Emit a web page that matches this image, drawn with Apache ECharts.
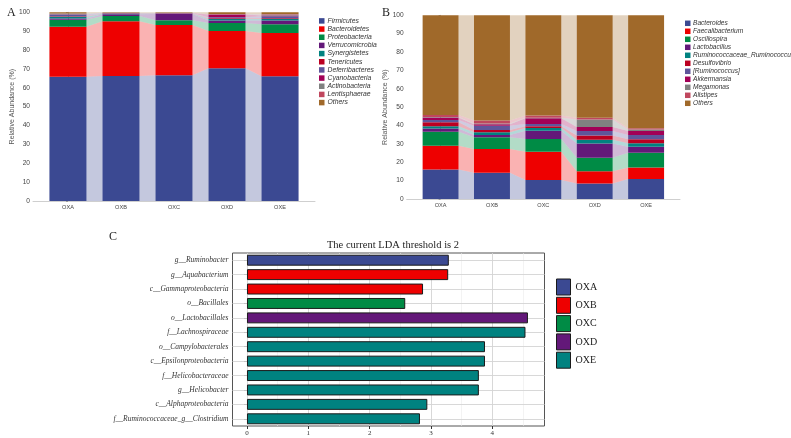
<!DOCTYPE html>
<html><head><meta charset="utf-8">
<script src="https://cdn.jsdelivr.net/npm/echarts@6/dist/echarts.min.js"></script>
<style>html,body{margin:0;padding:0;background:#fff}#c{width:791px;height:438px}</style>
</head><body><div id="c"></div>
<script>
// ---------- data ----------
const sampleGroups = ['OXA', 'OXB', 'OXC', 'OXD', 'OXE'];
const sampleIndex = [0, 1, 2, 3, 4];

// Panel A – phylum level relative abundance (%)
const phylumNames = ['Firmicutes', 'Bacteroidetes', 'Proteobacteria', 'Verrucomicrobia', 'Synergistetes',
  'Tenericutes', 'Deferribacteres', 'Cyanobacteria', 'Actinobacteria', 'Lentisphaerae', 'Others'];
const firmicutes      = [65.9, 66.3, 66.7, 70.3, 66.1];
const bacteroidetes   = [26.4, 29.0, 26.6, 19.8, 22.9];
const proteobacteria  = [3.7, 2.8, 2.5, 4.2, 4.7];
const verrucomicrobia = [0.7, 0.9, 3.3, 1.4, 2.0];
const synergistetes   = [0.9, 0.2, 0.1, 0.7, 0.8];
const tenericutes     = [0.3, 0.1, 0.2, 0.4, 0.4];
const deferribacteres = [0.9, 0.2, 0.1, 0.6, 1.0];
const cyanobacteria   = [0.2, 0.1, 0.1, 1.4, 0.4];
const actinobacteria  = [0.3, 0.1, 0.1, 0.2, 0.5];
const lentisphaerae   = [0.1, 0.0, 0.0, 0.1, 0.3];
const phylumOthers    = [0.6, 0.3, 0.3, 0.9, 0.9];

// Panel B – genus level relative abundance (%)
const genusNames = ['Bacteroides', 'Faecalibacterium', 'Oscillospira', 'Lactobacillus', 'Ruminococcaceae_Ruminococcus',
  'Desulfovibrio', '[Ruminococcus]', 'Akkermansia', 'Megamonas', 'Alistipes', 'Others'];
const bacteroides      = [16.0, 14.3, 10.3, 8.4, 10.9];
const faecalibacterium = [13.0, 12.9, 15.4, 6.7, 6.2];
const oscillospira     = [7.6, 6.4, 7.0, 7.3, 8.1];
const lactobacillus    = [1.8, 1.2, 4.4, 7.8, 3.3];
const ruminoRumino     = [1.2, 1.5, 1.5, 2.1, 1.8];
const desulfovibrio    = [2.2, 1.3, 1.0, 2.3, 2.2];
const ruminococcusBr   = [1.2, 2.3, 1.2, 2.4, 2.3];
const akkermansia      = [1.4, 0.8, 3.1, 2.2, 2.2];
const megamonas        = [0.3, 0.4, 0.3, 4.1, 0.9];
const alistipes        = [1.0, 1.6, 1.2, 0.9, 0.6];
const genusOthers      = [54.3, 57.3, 54.6, 55.8, 61.5];

// Panel C – LEfSe LDA scores
const ldaTaxa = ['g__Ruminobacter', 'g__Aquabacterium', 'c__Gammaproteobacteria', 'o__Bacillales', 'o__Lactobacillales',
  'f__Lachnospiraceae', 'o__Campylobacterales', 'c__Epsilonproteobacteria', 'f__Helicobacteraceae', 'g__Helicobacter',
  'c__Alphaproteobacteria', 'f__Ruminococcaceae_g__Clostridium'];
const ldaScores = [3.29, 3.28, 2.87, 2.58, 4.58, 4.54, 3.88, 3.88, 3.78, 3.78, 2.94, 2.82];
const ldaGroups = ['OXA', 'OXB', 'OXB', 'OXC', 'OXD', 'OXE', 'OXE', 'OXE', 'OXE', 'OXE', 'OXE', 'OXE'];
const ldaTicks = [0, 1, 2, 3, 4];
const ldaGrid = [0, 0.5, 1, 1.5, 2, 2.5, 3, 3.5, 4, 4.5];

// ---------- styling ----------
const palette = ['#3B4992', '#EE0000', '#008B45', '#631879', '#008280', '#BB0021', '#5F559B', '#A20056', '#808180', '#C0475E', '#A0692A'];
const groupColors = ['#3B4992', '#EE0000', '#008B45', '#631879', '#008280'];
const SANS = 'Liberation Sans';
const SERIF = 'Liberation Serif';

const phylumData = [firmicutes, bacteroidetes, proteobacteria, verrucomicrobia, synergistetes, tenericutes,
  deferribacteres, cyanobacteria, actinobacteria, lentisphaerae, phylumOthers];
const genusData = [bacteroides, faecalibacterium, oscillospira, lactobacillus, ruminoRumino, desulfovibrio,
  ruminococcusBr, akkermansia, megamonas, alistipes, genusOthers];

function stackBars(names, arrays, axisIdx, stackId) {
  // value first so that the stacked dimension is the y value
  return names.map((n, k) => ({
    name: n, type: 'bar', xAxisIndex: axisIdx, yAxisIndex: axisIdx, stack: stackId,
    barWidth: '70%', silent: true, z: 3,
    encode: { x: 1, y: 0 },
    itemStyle: { color: palette[k] },
    data: arrays[k].map((v, i) => [v, sampleIndex[i]])
  }));
}
function linkAreas(arrays, axisIdx) {
  const n = sampleIndex.length;
  const cum = arrays.map(() => []);
  for (let i = 0; i < n; i++) {
    let s = 0;
    arrays.forEach((a, k) => { cum[k][i] = [s, s + a[i]]; s += a[i]; });
  }
  const items = [];
  arrays.forEach((a, k) => {
    for (let i = 0; i < n - 1; i++) items.push([sampleIndex[i], cum[k][i][0], cum[k][i][1], cum[k][i + 1][0], cum[k][i + 1][1], k]);
  });
  return {
    type: 'custom', xAxisIndex: axisIdx, yAxisIndex: axisIdx, silent: true, z: 1, data: items,
    renderItem: (p, api) => {
      const i = api.value(0), k = api.value(5);
      const pts = [
        api.coord([i + 0.35, api.value(1)]), api.coord([i + 0.35, api.value(2)]),
        api.coord([i + 0.65, api.value(4)]), api.coord([i + 0.65, api.value(3)])
      ];
      return { type: 'polygon', shape: { points: pts }, style: { fill: palette[k], opacity: 0.3 } };
    }
  };
}

function abXAxis(gi) {
  return {
    gridIndex: gi, type: 'value', min: -0.66, max: 4.66,
    axisLine: { show: true, lineStyle: { color: '#cfcfcf', width: 1 } },
    axisTick: { show: false }, splitLine: { show: false },
    axisLabel: { customValues: sampleIndex, formatter: v => sampleGroups[Math.round(v)], fontSize: 5.6, color: '#444', fontFamily: SANS, margin: 3 }
  };
}
function abYAxis(gi) {
  return {
    gridIndex: gi, type: 'value', min: 0, max: 100, interval: 10,
    name: 'Relative Abundance (%)', nameLocation: 'middle', nameGap: 17,
    nameTextStyle: { fontSize: 7, color: '#555', fontFamily: SANS },
    axisLine: { show: true, lineStyle: { color: '#bbbbbb', width: 1 } },
    axisTick: { show: true, length: 2, lineStyle: { color: '#999' } },
    splitLine: { show: false },
    axisLabel: { fontSize: 6.6, color: '#444', fontFamily: SANS, margin: 3 }
  };
}

const ldaSeries = sampleGroups.map((g, gi) => ({
  name: g, type: 'bar', xAxisIndex: 2, yAxisIndex: 2, stack: 'lda', barWidth: '76%', z: 3, silent: true,
  itemStyle: { color: groupColors[gi], borderColor: '#1a1a1a', borderWidth: 1 },
  data: ldaScores.map((v, i) => (ldaGroups[i] === g ? v : '-'))
}));

const gridSeries = {
  type: 'line', xAxisIndex: 2, yAxisIndex: 2, data: [], z: 1, silent: true,
  markLine: {
    z: 1, silent: true, symbol: ['none', 'none'], label: { show: false }, animation: false,
    data: ldaGrid.map(v => ({ xAxis: v, lineStyle: { color: Number.isInteger(v) ? '#d4d4d4' : '#ebebeb', width: Number.isInteger(v) ? 0.9 : 0.6, type: 'solid' } }))
      .concat(ldaTaxa.map(t => ({ yAxis: t, lineStyle: { color: '#d4d4d4', width: 0.9, type: 'solid' } })))
  }
};

const option = {
  animation: false,
  backgroundColor: '#ffffff',
  title: [
    { text: 'A', left: 2, top: 2, textStyle: { fontFamily: SERIF, fontSize: 12, fontWeight: 'normal', color: '#222' } },
    { text: 'B', left: 377, top: 2, textStyle: { fontFamily: SERIF, fontSize: 12, fontWeight: 'normal', color: '#222' } },
    { text: 'C', left: 104, top: 226, textStyle: { fontFamily: SERIF, fontSize: 12, fontWeight: 'normal', color: '#222' } },
    { text: 'The current LDA threshold is 2', left: 388, textAlign: 'center', top: 235, textStyle: { fontFamily: SERIF, fontSize: 10.5, fontWeight: 'normal', color: '#222' } }
  ],
  legend: [
    { data: phylumNames, orient: 'vertical', left: 319, top: 16.9, padding: 0, itemWidth: 5.5, itemHeight: 5.5, itemGap: 0.17, icon: 'rect', selectedMode: false,
      textStyle: { fontSize: 6.8, lineHeight: 8, fontStyle: 'italic', color: '#333', fontFamily: SANS, padding: [0, 0, 0, -2] } },
    { data: genusNames, orient: 'vertical', left: 685, top: 19.3, padding: 0, itemWidth: 5.5, itemHeight: 5.5, itemGap: 0, icon: 'rect', selectedMode: false,
      textStyle: { fontSize: 6.6, lineHeight: 8, fontStyle: 'italic', color: '#333', fontFamily: SANS, padding: [0, 0, 0, -2.5] } },
    { data: sampleGroups, orient: 'vertical', left: 556, top: 278.5, padding: 0, itemWidth: 14, itemHeight: 16, itemGap: 1.3, icon: 'rect', selectedMode: false,
      itemStyle: { borderColor: '#1a1a1a', borderWidth: 1 },
      textStyle: { fontSize: 10, color: '#222', fontFamily: SERIF } }
  ],
  grid: [
    { left: 33, top: 12.3, width: 282, height: 188.7 },
    { left: 406.7, top: 15.3, width: 273.3, height: 183.7 },
    { left: 232.5, top: 253, width: 312, height: 173, show: true, borderColor: '#555', borderWidth: 1, backgroundColor: '#fff' }
  ],
  xAxis: [
    abXAxis(0), abXAxis(1),
    { gridIndex: 2, type: 'value', min: -0.236, max: 4.85,
      axisLine: { show: false }, splitLine: { show: false },
      axisTick: { show: true, customValues: ldaTicks, length: 3, lineStyle: { color: '#333' } },
      axisLabel: { customValues: ldaTicks, fontSize: 7, color: '#333', fontFamily: SERIF, margin: 4 } }
  ],
  yAxis: [
    abYAxis(0), abYAxis(1),
    { gridIndex: 2, type: 'category', data: ldaTaxa, inverse: true,
      axisLine: { show: false }, splitLine: { show: false },
      axisTick: { show: true, alignWithLabel: true, length: 3, lineStyle: { color: '#333' } },
      axisLabel: { fontSize: 7.5, fontStyle: 'italic', color: '#333', fontFamily: SERIF, margin: 4 } }
  ],
  series: [
    linkAreas(phylumData, 0), ...stackBars(phylumNames, phylumData, 0, 'phylum'),
    linkAreas(genusData, 1), ...stackBars(genusNames, genusData, 1, 'genus'),
    gridSeries, ...ldaSeries
  ]
};

const chart = echarts.init(document.getElementById('c'), null, { renderer: 'canvas' });
chart.setOption(option);
</script>
</body></html>
